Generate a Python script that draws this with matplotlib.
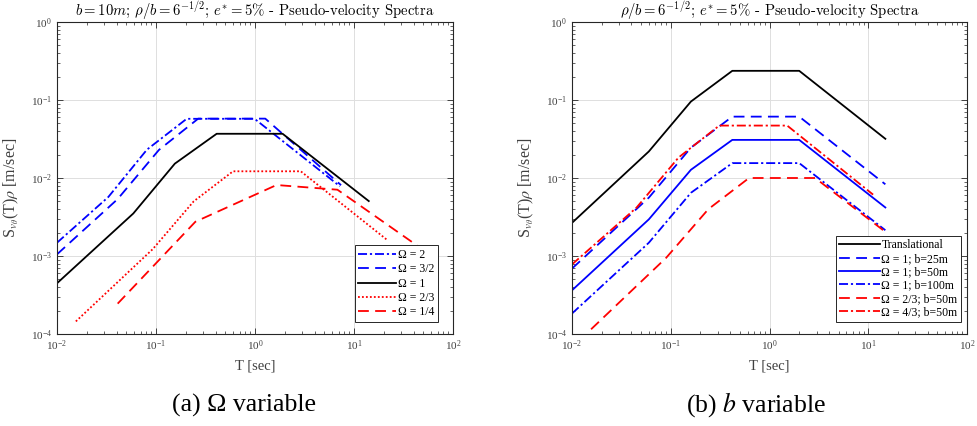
import numpy as np
import matplotlib
matplotlib.use('Agg')
import matplotlib.pyplot as plt
from matplotlib.ticker import LogLocator, NullFormatter

plt.rcParams['font.family'] = ['Liberation Serif', 'DejaVu Serif']
plt.rcParams['mathtext.fontset'] = 'stix'

# ---------------- data: (a) Omega variable, b = 10 m ----------------
T_om2 = [0.01, 0.033, 0.081, 0.204, 0.99, 7.2]
S_om2 = [1.48e-3, 5.71e-3, 0.0231, 0.0574, 0.0574, 7.83e-3]

T_om32 = [0.01, 0.041, 0.107, 0.267, 1.27, 7.4]
S_om32 = [1.05e-3, 5.37e-3, 0.0229, 0.0577, 0.0577, 8.1e-3]

T_om1 = [0.01, 0.059, 0.155, 0.41, 1.9, 14.1]
S_om1 = [4.47e-4, 3.51e-3, 0.01528, 0.0369, 0.0369, 5.06e-3]

T_om23 = [0.0155, 0.093, 0.24, 0.6, 2.9, 21.7]
S_om23 = [1.45e-4, 1.23e-3, 5.01e-3, 0.01219, 0.01219, 1.6e-3]

T_om14 = [0.041, 0.25, 1.65, 6.8, 60.0]
S_om14 = [2.45e-4, 2.75e-3, 8.13e-3, 7.08e-3, 1.02e-3]

labels_a = ['Ω = 2', 'Ω = 3/2', 'Ω = 1', 'Ω = 2/3', 'Ω = 1/4']

# ---------------- data: (b) b variable ----------------
T_tr = [0.01, 0.06, 0.16, 0.42, 2.0, 14.9]
S_tr = [2.66e-3, 0.0219, 0.0955, 0.2366, 0.2366, 0.0318]

T_b25 = [0.01, 0.06, 0.16, 0.42, 2.0, 14.9]
S_b25 = [6.9e-4, 5.6e-3, 0.0245, 0.0612, 0.0612, 8.3e-3]

T_b50 = [0.01, 0.06, 0.16, 0.42, 2.0, 14.9]
S_b50 = [3.63e-4, 2.95e-3, 0.01274, 0.0308, 0.0308, 4.19e-3]

T_b100 = [0.01, 0.06, 0.16, 0.42, 2.0, 14.9]
S_b100 = [1.83e-4, 1.48e-3, 6.46e-3, 0.01552, 0.01552, 2.14e-3]

T_o23b50 = [0.0156, 0.09, 0.24, 0.62, 2.9, 14.9]
S_o23b50 = [1.15e-4, 9.5e-4, 3.98e-3, 0.01, 0.01, 2.04e-3]

T_o43b50 = [0.01, 0.045, 0.12, 0.31, 1.51, 11.2]
S_o43b50 = [7.8e-4, 4.17e-3, 0.01832, 0.047, 0.047, 6.12e-3]

labels_b = ['Translational', 'Ω = 1; b=25m', 'Ω = 1; b=50m', 'Ω = 1; b=100m',
            'Ω = 2/3; b=50m', 'Ω = 4/3; b=50m']

x_ticks = [1e-2, 1e-1, 1e0, 1e1, 1e2]
y_ticks = [1e-4, 1e-3, 1e-2, 1e-1, 1e0]

title_a = r'$b = 10m$; $\rho/b = 6^{-1/2}$; $e^{*} = 5\%$ - Pseudo-velocity Spectra'
title_b = r'$\rho/b = 6^{-1/2}$; $e^{*} = 5\%$ - Pseudo-velocity Spectra'

# ---------------- styles ----------------
DASH = (0, (6, 3.5))
DASHDOT = (0, (5, 1.6, 1.2, 1.6))
DOT = (0, (1, 1.2))
LW = 1.3

fig = plt.figure(figsize=(9.77, 4.26), dpi=100)
axL = fig.add_axes([57/977, 1-334/426, 396/977, 312/426])
axR = fig.add_axes([572/977, 1-334/426, 395/977, 312/426])

axL.loglog(T_om2, S_om2, color='b', ls=DASHDOT, lw=LW, label=labels_a[0])
axL.loglog(T_om32, S_om32, color='b', ls=DASH, lw=LW, label=labels_a[1])
axL.loglog(T_om1, S_om1, color='k', ls='-', lw=LW, label=labels_a[2])
axL.loglog(T_om23, S_om23, color='r', ls=DOT, lw=LW, label=labels_a[3])
axL.loglog(T_om14, S_om14, color='r', ls=DASH, lw=LW, label=labels_a[4])

axR.loglog(T_tr, S_tr, color='k', ls='-', lw=LW, label=labels_b[0])
axR.loglog(T_b25, S_b25, color='b', ls=DASH, lw=LW, label=labels_b[1])
axR.loglog(T_b50, S_b50, color='b', ls='-', lw=LW, label=labels_b[2])
axR.loglog(T_b100, S_b100, color='b', ls=DASHDOT, lw=LW, label=labels_b[3])
axR.loglog(T_o23b50, S_o23b50, color='r', ls=DASH, lw=LW, label=labels_b[4])
axR.loglog(T_o43b50, S_o43b50, color='r', ls=DASHDOT, lw=LW, label=labels_b[5])

for ax, ttl in ((axL, title_a), (axR, title_b)):
    ax.set_xlim(x_ticks[0], x_ticks[-1])
    ax.set_ylim(y_ticks[0], y_ticks[-1])
    ax.set_xticks(x_ticks)
    ax.set_yticks(y_ticks)
    ax.xaxis.set_minor_locator(LogLocator(base=10, subs=np.arange(2, 10), numticks=20))
    ax.yaxis.set_minor_locator(LogLocator(base=10, subs=np.arange(2, 10), numticks=20))
    ax.xaxis.set_minor_formatter(NullFormatter())
    ax.yaxis.set_minor_formatter(NullFormatter())
    ax.grid(True, which='major', color='0.87', lw=0.7)
    ax.set_axisbelow(True)
    ax.tick_params(which='both', direction='in', top=True, right=True,
                   colors='0.15', labelcolor='0.25', labelsize=8)
    ax.tick_params(which='major', length=4, width=0.6)
    ax.tick_params(which='minor', length=2, width=0.5)
    for sp in ax.spines.values():
        sp.set_color('0.15')
        sp.set_linewidth(0.8)
    ax.set_xlabel('T [sec]', fontsize=10.5, color='0.25', labelpad=4)
    ax.set_ylabel(r'S$_{v_{\theta}}$(T)$\rho$ [m/sec]', fontsize=11.5, color='0.25')
    ax.yaxis.set_label_coords(-0.09, 0.47)
    ax.set_title(ttl, fontsize=10.6, fontfamily='cmr10', math_fontfamily='cm', pad=3)

legL = axL.legend(loc='lower right', bbox_to_anchor=(0.962, 0.0385), fontsize=8.5,
                  frameon=True, fancybox=False, edgecolor='0.15', framealpha=1,
                  handlelength=3.2, handletextpad=0.15, borderpad=0.3,
                  labelspacing=0.2, borderaxespad=0)
legL.get_frame().set_linewidth(0.7)
legR = axR.legend(loc='lower right', bbox_to_anchor=(0.985, 0.0385), fontsize=8.5,
                  frameon=True, fancybox=False, edgecolor='0.15', framealpha=1,
                  handlelength=3.4, handletextpad=0.15, borderpad=0.3,
                  labelspacing=0.12, borderaxespad=0)
legR.get_frame().set_linewidth(0.7)

fig.text(244/977, 1-405/426, '(a) Ω variable', ha='center', va='center', fontsize=18.5)
fig.text(756/977, 1-405/426, r'(b) $b$ variable', ha='center', va='center', fontsize=18.5)

fig.savefig('out.png', dpi=100)
